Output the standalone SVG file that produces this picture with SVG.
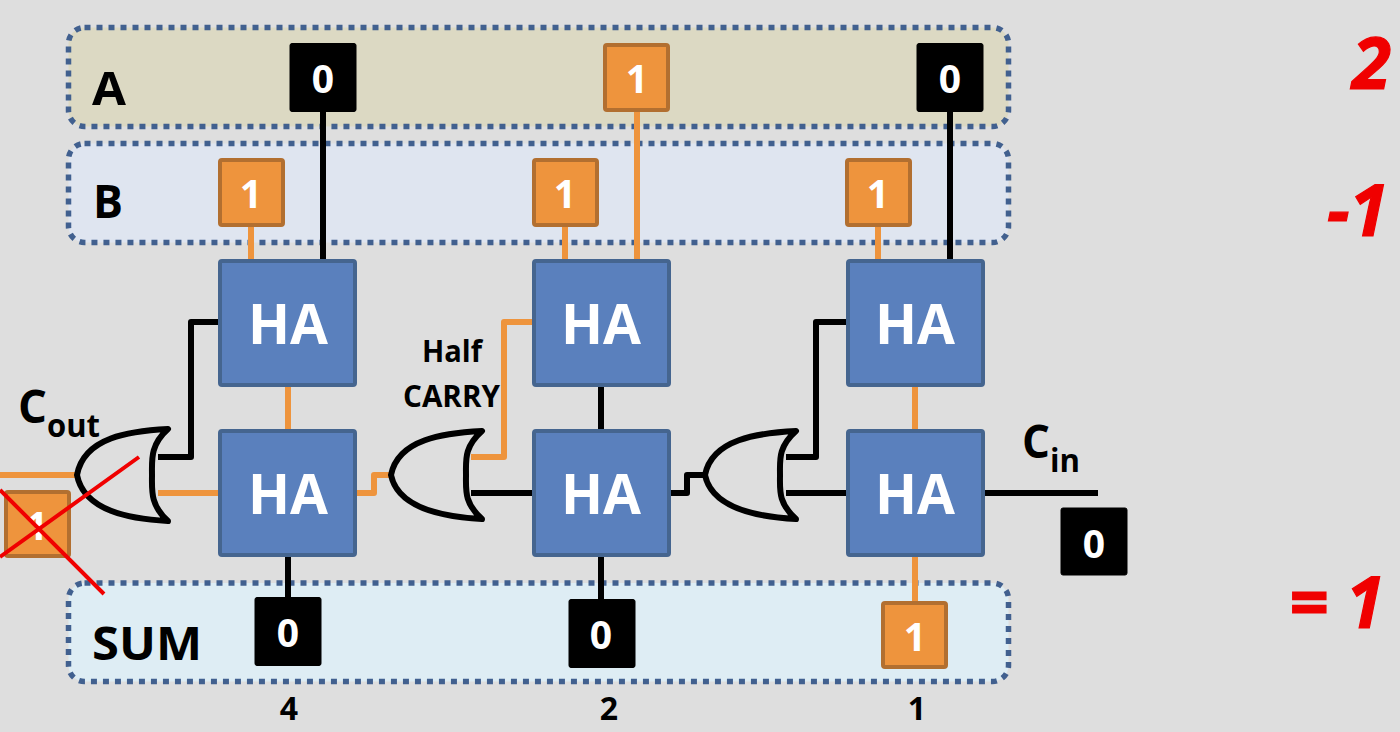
<svg xmlns="http://www.w3.org/2000/svg" width="1400" height="732" viewBox="0 0 1400 732">
<style>
text{font-family:"Open Sans","Noto Sans","Liberation Sans",sans-serif;font-weight:700;fill:#000}
.band{stroke:#41608f;stroke-width:5.500;stroke-dasharray:6 6}
.ha{fill:#5a80bd;stroke:#45658f;stroke-width:4}
.ha-t{font-size:55px;fill:#fff;text-anchor:middle}
.k{fill:#000;stroke:#000;stroke-width:1}
.o{fill:#ee943d;stroke:#b26f30;stroke-width:4}
.d{font-size:39px;fill:#fff;text-anchor:middle}
.lab{font-size:47px}
.sm{font-size:30px}
.wk,.wo,.gate{fill:none;stroke-width:6;stroke-linejoin:round}
.wk{stroke:#000}
.wo{stroke:#ee943d}
.gate{stroke:#000;stroke-width:6}
.x{stroke:#f00000;stroke-width:4;fill:none}
.r{font-size:71px;font-style:italic;fill:#f00000;stroke:#f00000;stroke-width:1.200}
.w{font-size:32px;text-anchor:middle}
</style>
<rect width="1400" height="732" fill="#dedede"/>
<g id="band-a"><rect class="band" x="68.500" y="27.500" width="940" height="99" rx="16" fill="#dcd9c3"/><text class="lab" x="92" y="105" textLength="34" lengthAdjust="spacingAndGlyphs">A</text></g>
<g id="band-b"><rect class="band" x="68.500" y="143.500" width="940" height="99" rx="16" fill="#dfe5f0"/><text class="lab" x="93" y="218" textLength="30" lengthAdjust="spacingAndGlyphs">B</text></g>
<g id="band-sum"><rect class="band" x="68.500" y="583" width="940" height="98.500" rx="16" fill="#deedf4"/><text class="lab" x="92" y="660" textLength="110" lengthAdjust="spacingAndGlyphs">SUM</text></g>
<g id="connectors">
<path class="wk" d="M323 112V260M950 112V260M601 386V430M288 556V597M601 556V600"/>
<path class="wk" d="M471 493H533M669 493H687V475H705M786 493H847M786 457H816V322H847M158 457H191V322H219M983 493H1098"/>
<path class="wo" d="M251 226V260M565 226V260M878 226V260M637 112V260M288 386V430M915 386V430M915 556V602"/>
<path class="wo" d="M471 457H504V322H533M158 493H219M0 475H77M356 493H374V475H391"/>
</g>
<g id="gate-1"><path class="gate" d="M168 429C130 431 84 437 77 475C84 511 130 519 168 521C150 505 152 490 152 475C152 460 150 445 168 429Z"/></g>
<g id="gate-2"><path class="gate" d="M482 431C444 433 398 439 391 475C398 509 444 517 482 519C464 503 466 490 466 475C466 460 464 447 482 431Z"/></g>
<g id="gate-3"><path class="gate" d="M796 431C758 433 712 439 705 475C712 509 758 517 796 519C778 503 780 490 780 475C780 460 778 447 796 431Z"/></g>
<g id="ha-4a"><rect class="ha" x="220" y="261" width="135" height="124" rx="2"/><text class="ha-t" x="288" y="344">HA</text></g>
<g id="ha-4b"><rect class="ha" x="220" y="431" width="135" height="124" rx="2"/><text class="ha-t" x="288" y="514">HA</text></g>
<g id="ha-2a"><rect class="ha" x="534" y="261" width="135" height="124" rx="2"/><text class="ha-t" x="601" y="344">HA</text></g>
<g id="ha-2b"><rect class="ha" x="534" y="431" width="135" height="124" rx="2"/><text class="ha-t" x="601" y="514">HA</text></g>
<g id="ha-1a"><rect class="ha" x="848" y="261" width="135" height="124" rx="2"/><text class="ha-t" x="915" y="344">HA</text></g>
<g id="ha-1b"><rect class="ha" x="848" y="431" width="135" height="124" rx="2"/><text class="ha-t" x="915" y="514">HA</text></g>
<g id="a4"><rect class="k" x="290" y="43.500" width="66" height="68" rx="2"/><text class="d" x="323" y="93">0</text></g>
<g id="a2"><rect class="o" x="605" y="45" width="63" height="65" rx="2"/><text class="d" x="637" y="93">1</text></g>
<g id="a1"><rect class="k" x="917" y="43.500" width="66" height="68" rx="2"/><text class="d" x="950" y="93">0</text></g>
<g id="b4"><rect class="o" x="220" y="160" width="63" height="65" rx="2"/><text class="d" x="251" y="208">1</text></g>
<g id="b2"><rect class="o" x="534" y="160" width="63" height="65" rx="2"/><text class="d" x="565" y="208">1</text></g>
<g id="b1"><rect class="o" x="847" y="160" width="63" height="65" rx="2"/><text class="d" x="878" y="208">1</text></g>
<g id="s4"><rect class="k" x="255" y="597.500" width="66" height="68" rx="2"/><text class="d" x="288" y="647">0</text></g>
<g id="s2"><rect class="k" x="569" y="599.500" width="66" height="68" rx="2"/><text class="d" x="601" y="649">0</text></g>
<g id="s1"><rect class="o" x="883" y="603" width="63" height="64" rx="2"/><text class="d" x="915" y="651">1</text></g>
<g id="cin"><rect class="k" x="1061" y="508" width="66" height="67" rx="2"/><text class="d" x="1094" y="558">0</text></g>
<g id="cout"><rect class="o" x="6" y="492" width="63" height="64" rx="2"/><text class="d" x="37" y="540">1</text></g>
<g id="cross"><path class="x" d="M139 457L0 557M0 490L104 594"/></g>
<text class="lab" x="18" y="423" textLength="29" lengthAdjust="spacingAndGlyphs">C</text>
<text class="sm" x="47" y="437" style="font-size:33px" textLength="53" lengthAdjust="spacingAndGlyphs">out</text>
<text class="lab" x="1022" y="458" textLength="28" lengthAdjust="spacingAndGlyphs">C</text>
<text class="sm" x="1050" y="472" style="font-size:33px" textLength="30" lengthAdjust="spacingAndGlyphs">in</text>
<text class="sm" x="422" y="362" textLength="60" lengthAdjust="spacingAndGlyphs">Half</text>
<text class="sm" x="403" y="407" textLength="97" lengthAdjust="spacingAndGlyphs">CARRY</text>
<text class="w" x="289" y="720">4</text>
<text class="w" x="609" y="720">2</text>
<text class="w" x="917" y="720">1</text>
<text class="r" x="1352" y="89">2</text>
<text class="r" x="1327" y="236" textLength="61" lengthAdjust="spacingAndGlyphs">-1</text>
<text class="r" x="1289" y="628" textLength="95" lengthAdjust="spacingAndGlyphs">= 1</text>
</svg>
